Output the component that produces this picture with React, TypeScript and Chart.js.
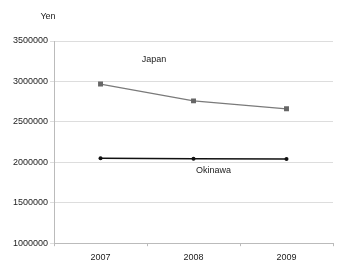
import React, { useEffect, useRef } from "react";
import { Chart, registerables } from "chart.js";

Chart.register(...registerables);

const years = ["2007", "2008", "2009"];
const japan = [2968000, 2760000, 2662000];
const okinawa = [2050000, 2043000, 2042000];
const yTicks = [1000000, 1500000, 2000000, 2500000, 3000000, 3500000];

const labelPlugin = {
  id: "labels",
  afterDraw(chart: any) {
    const { ctx, scales } = chart;
    const x = scales.x;
    const y = scales.y;
    ctx.save();
    ctx.fillStyle = "#222";
    ctx.font = "9px 'Liberation Sans', Arial, sans-serif";
    ctx.textBaseline = "middle";
    ctx.textAlign = "center";
    ctx.fillText("Yen", 48, 17);
    ctx.fillText("Japan", (x.getPixelForValue(0) + x.getPixelForValue(1)) / 2 + 7, y.getPixelForValue(3265000));
    ctx.fillText("Okinawa", x.getPixelForValue(1) + 20, y.getPixelForValue(1900000));
    ctx.restore();
  },
};

export default function App() {
  const ref = useRef<HTMLCanvasElement>(null);
  useEffect(() => {
    document.body.style.margin = "0";
    const chart = new Chart(ref.current!, {
      type: "line",
      data: {
        labels: years,
        datasets: [
          {
            label: "Japan",
            data: japan,
            borderColor: "#7a7a7a",
            backgroundColor: "#666",
            pointBackgroundColor: "#666",
            pointBorderColor: "#666",
            pointBorderWidth: 0,
            pointStyle: "rect",
            pointRadius: 3.5,
            borderWidth: 1.3,
            tension: 0,
          },
          {
            label: "Okinawa",
            data: okinawa,
            borderColor: "#111",
            backgroundColor: "#111",
            pointBackgroundColor: "#111",
            pointBorderColor: "#111",
            pointBorderWidth: 0,
            pointStyle: "circle",
            pointRadius: 2,
            borderWidth: 1.5,
            tension: 0,
          },
        ],
      },
      options: {
        animation: false,
        responsive: false,
        layout: { padding: { top: 41, right: 17, left: 11, bottom: 3 } },
        plugins: { legend: { display: false }, tooltip: { enabled: false } },
        scales: {
          x: {
            offset: true,
            grid: {
              offset: true,
              drawOnChartArea: false,
              tickLength: 3,
              color: "#bbb",
            },
            border: { color: "#bbb" },
            ticks: {
              color: "#222",
              font: { family: "'Liberation Sans', Arial, sans-serif", size: 9 },
              padding: 6,
            },
          },
          y: {
            min: 1000000,
            max: 3500000,
            afterBuildTicks: (axis: any) => {
              axis.ticks = yTicks.map((v) => ({ value: v }));
            },
            grid: { color: "#ddd", tickLength: 4, lineWidth: 1 },
            border: { color: "#bbb" },
            ticks: {
              color: "#222",
              font: { family: "'Liberation Sans', Arial, sans-serif", size: 9 },
              padding: 2,
              callback: (v: any) => String(v),
            },
          },
        },
      },
      plugins: [labelPlugin],
    });
    return () => chart.destroy();
  }, []);
  return <canvas ref={ref} width={350} height={272} style={{ display: "block" }} />;
}
